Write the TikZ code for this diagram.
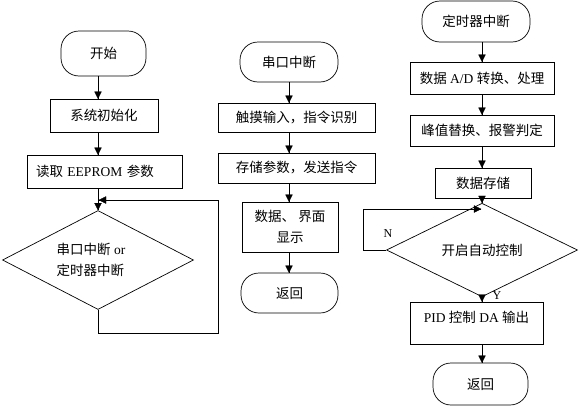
\documentclass[tikz,border=0pt]{standalone}
\usepackage{fontspec}
\setmainfont{Liberation Serif}
\newfontfamily\cjkfont{Noto Sans CJK SC}
\newcommand\zhtxt[1]{{\cjkfont #1}}
\usetikzlibrary{shapes.geometric}
\tikzset{
  proc/.style={draw, rectangle, line width=0.7pt, inner sep=0pt, font=\fontsize{13.5}{21}\selectfont},
  term/.style={draw, rectangle, line width=0.7pt, rounded corners=18pt, inner sep=0pt, font=\fontsize{13.5}{21}\selectfont},
  dec/.style={draw, diamond, line width=0.7pt, inner sep=0pt, font=\fontsize{13.5}{21}\selectfont},
  txt/.style={inner sep=0pt, font=\fontsize{13.5}{21}\selectfont},
  lbl/.style={inner sep=0pt, font=\fontsize{12}{14}\selectfont},
  flow/.style={draw, line width=0.7pt},
  tiphead/.style={fill=black, draw=black, line width=0.3pt}
}
% arrow heads drawn as filled triangles, tip at the given point
\newcommand\myTipDown[1]{\path[tiphead] #1 -- ++(-3.5,7) -- ++(7,0) -- cycle;}
\newcommand\myTipLeft[1]{\path[tiphead] #1 -- ++(7,3.5) -- ++(0,-7) -- cycle;}
\newcommand\myTipRight[1]{\path[tiphead] #1 -- ++(-7,3.5) -- ++(0,-7) -- cycle;}
\begin{document}
\begin{tikzpicture}[x=1pt,y=1pt]
\useasboundingbox (0,0) rectangle (579,-407);

% ---- left column ----
\node[term, minimum width=85, minimum height=45] (start) at (103.5,-53.5) {\zhtxt{开始}};
\node[proc, minimum width=108, minimum height=33] (init) at (104,-115.5) {\zhtxt{系统初始化}};
\node[proc, minimum width=155, minimum height=33, text width=137, align=left] (eep) at (104.5,-171.5) {\zhtxt{读取} EEPROM \zhtxt{参数}};
\node[dec, minimum width=191, minimum height=99] (d1) at (98,-260) {};
\node[txt, align=left] (d1t) at (91,-259.5) {\zhtxt{串口中断} or\\\zhtxt{定时器中断}};
\coordinate (j1) at (99,-200);

\path[flow] (start.south -| d1.north) -- (init.north -| d1.north);
\myTipDown{(init.north -| d1.north)}
\path[flow] (init.south -| d1.north) -- (eep.north -| d1.north);
\myTipDown{(eep.north -| d1.north)}
\path[flow] (eep.south -| d1.north) -- (d1.north);
\myTipDown{(d1.north)}
\path[flow] (d1.south) -- ++(0,-23) -- ++(120,0) |- (j1);
\myTipLeft{(j1)}

% ---- middle column ----
\node[term, minimum width=98, minimum height=40] (s2) at (289,-62) {\zhtxt{串口中断}};
\node[proc, minimum width=157, minimum height=29] (touch) at (296.5,-117.5) {\zhtxt{触摸输入，指令识别}};
\node[proc, minimum width=157, minimum height=30] (store) at (296.5,-168) {\zhtxt{存储参数，发送指令}};
\node[proc, minimum width=96, minimum height=50, align=center] (disp) at (290,-227) {\zhtxt{数据、 界面}\\\zhtxt{显示}};
\node[term, minimum width=97, minimum height=40] (ret1) at (289.5,-293) {\zhtxt{返回}};

\path[flow] (s2.south) -- (touch.north -| s2.south);
\myTipDown{(touch.north -| s2.south)}
\path[flow] (touch.south -| s2.south) -- (store.north -| s2.south);
\myTipDown{(store.north -| s2.south)}
\path[flow] (store.south -| s2.south) -- (disp.north -| s2.south);
\myTipDown{(disp.north -| s2.south)}
\path[flow] (disp.south -| s2.south) -- (ret1.north -| s2.south);
\myTipDown{(ret1.north -| s2.south)}

% ---- right column ----
\node[term, minimum width=108, minimum height=41] (tim) at (476,-21.5) {\zhtxt{定时器中断}};
\node[proc, minimum width=144, minimum height=32] (ad) at (482,-78) {\zhtxt{数据} A/D \zhtxt{转换、处理}};
\node[proc, minimum width=144, minimum height=31] (peak) at (482,-130.5) {\zhtxt{峰值替换、报警判定}};
\node[proc, minimum width=96, minimum height=30] (save) at (483,-183) {\zhtxt{数据存储}};
\node[dec, minimum width=191, minimum height=62] (d2) at (482,-250) {\zhtxt{开启自动控制}};
\node[proc, minimum width=133, minimum height=42, text height=11pt, text depth=13pt] (pid) at (476.5,-323) {PID \zhtxt{控制} DA \zhtxt{输出}};
\node[term, minimum width=95, minimum height=42] (ret2) at (480.5,-384) {\zhtxt{返回}};
\coordinate (j2) at (481,-209);
\node[lbl] (nlab) at (388,-234) {N};
\node[lbl] (ylab) at (497,-296) {Y};

\path[flow] (tim.south -| d2.north) -- (ad.north -| d2.north);
\myTipDown{(ad.north -| d2.north)}
\path[flow] (ad.south -| d2.north) -- (peak.north -| d2.north);
\myTipDown{(peak.north -| d2.north)}
\path[flow] (peak.south -| d2.north) -- (save.north -| d2.north);
\myTipDown{(save.north -| d2.north)}
\path[flow] (save.south -| d2.north) -- (d2.north);
\myTipDown{(d2.north)}
\path[flow] (d2.west) -- ++(-23,0) |- (j2);
\myTipRight{(j2)}
\path[flow] (d2.south) -- (pid.north -| d2.south);
\myTipDown{(pid.north -| d2.south)}
\path[flow] (pid.south -| d2.south) -- (ret2.north -| d2.south);
\myTipDown{(ret2.north -| d2.south)}
\end{tikzpicture}
\end{document}
